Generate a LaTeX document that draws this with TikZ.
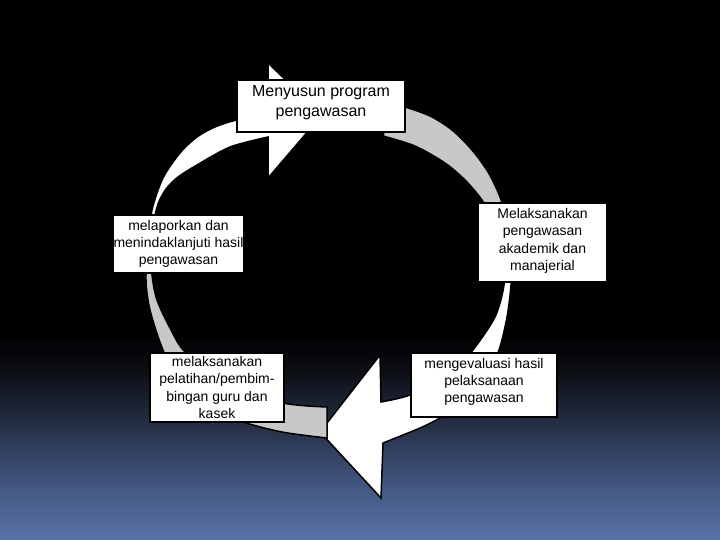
\documentclass[tikz,border=0pt]{standalone}
\usepackage{fontspec}
\setmainfont{Liberation Sans}
\definecolor{ringgray}{RGB}{200,200,200}
\definecolor{slidebottom}{RGB}{88,114,164}
\definecolor{slidelow}{RGB}{70,91,135}
\definecolor{slidemid}{RGB}{38,48,71}
\definecolor{slidehigh}{RGB}{12,14,20}
\pgfdeclareverticalshading{slidebg}{100bp}{color(0bp)=(slidebottom); color(25bp)=(slidebottom); color(29.4bp)=(slidelow); color(35.5bp)=(slidemid); color(40.7bp)=(slidehigh); color(44bp)=(black); color(100bp)=(black)}
\pgfdeclareverticalshading{arcone}{100bp}{color(0bp)=(ringgray); color(48bp)=(ringgray); color(54bp)=(white); color(100bp)=(white)}
\pgfdeclareverticalshading{arctwo}{100bp}{color(0bp)=(white); color(52bp)=(white); color(58bp)=(ringgray); color(100bp)=(ringgray)}
\begin{document}
\begin{tikzpicture}
        [x=1pt, y=-1pt,
        box/.style={draw, line width=2pt, fill=white, align=center, inner sep=0pt, font=\fontsize{14}{17.3}\selectfont},
        bigbox/.style={box, font=\fontsize{16}{20}\selectfont},
        arcline/.style={draw=black, line width=1.5pt, line join=miter}]
        \useasboundingbox (0,0) rectangle (720,540);
        \shade[shading=slidebg] (0,0) rectangle (720,540);

        % right arrow: from behind the top box down to the bottom head
        \shadedraw[shading=arctwo, arcline]
            plot[smooth] coordinates {(392,104) (405,107) (430,116) (452,130) (472,150) (488,172) (500,197) (508,225) (512,255) (511,285) (507,317) (499,350) (485,380) (465,403) (440,418) (420,428) (383,443)}
            -- (381,498) -- (320,432) -- (380,355) -- (381,402)
            -- plot[smooth] coordinates {(381,402) (410,395) (440,378) (460,362) (473,350) (495,317) (504,285) (504,255) (496,225) (482,200) (465,180) (445,163) (415,146) (383,136)}
            -- cycle;

        % left arrow: from the bottom tail up to the top head
        \shadedraw[shading=arcone, arcline]
            plot[smooth] coordinates {(327,438) (282,432) (240,421) (205,405) (180,382) (163,350) (150,310) (146,280) (148,245) (152,210) (163,178) (180,153) (197,137) (215,127) (237,120) (268,116)}
            -- (268,63) -- (322,115) -- (268,178) -- (268,137)
            -- plot[smooth] coordinates {(268,137) (230,147) (197,165) (178,177) (166,189) (158,204) (154,222) (152,250) (152,275) (157,300) (170,328) (186,353) (230,385) (283,403) (327,407)}
            -- cycle;

        \node[bigbox, minimum width=168, minimum height=52, text depth=11pt] (plan) at (321,106) {Menyusun program\\pengawasan};
        \node[box, minimum width=131, minimum height=58] (report) at (178.5,244) {melaporkan dan\\menindaklanjuti hasil\\pengawasan};
        \node[box, minimum width=129, minimum height=79, text depth=6pt] (supervise) at (542.5,242.5) {Melaksanakan\\pengawasan\\akademik dan\\manajerial};
        \node[box, minimum width=134, minimum height=69] (train) at (217,387.5) {melaksanakan\\pelatihan/pembim-\\bingan guru dan\\kasek};
        \node[box, minimum width=146, minimum height=64, text depth=9pt] (evaluate) at (484,385) {mengevaluasi hasil\\pelaksanaan\\pengawasan};

\end{tikzpicture}
\end{document}
